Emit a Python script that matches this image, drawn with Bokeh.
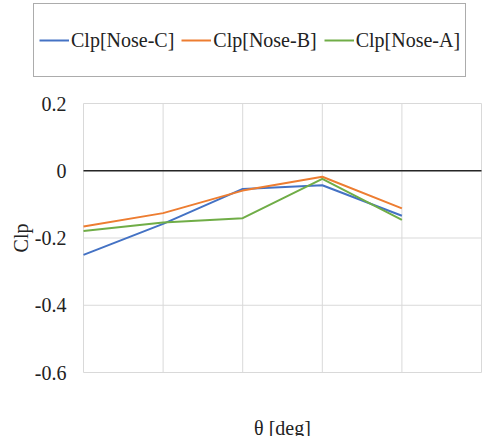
import math
from bokeh.plotting import figure
from bokeh.layouts import column
from bokeh.models import Legend, LegendItem
from bokeh.core.properties import value
from bokeh.embed import file_html
from bokeh.resources import INLINE

theta = [0, 5, 10, 15, 20]
clp_nose_c = [-0.250, -0.158, -0.054, -0.043, -0.134]
clp_nose_b = [-0.166, -0.126, -0.059, -0.018, -0.112]
clp_nose_a = [-0.179, -0.154, -0.141, -0.024, -0.146]
series_names = ["Clp[Nose-C]", "Clp[Nose-B]", "Clp[Nose-A]"]
series_colors = ["#4472C4", "#ED7D31", "#70AD47"]
x_ticks = [0, 5, 10, 15, 20, 25]
x_tick_labels = ["0", "5", "10", "15", "20", "25"]
y_ticks = [-0.6, -0.4, -0.2, 0, 0.2]
y_tick_labels = ["-0.6", "-0.4", "-0.2", "0", "0.2"]
x_title = "θ [deg]"
y_title = "Clp"
zero_level = 0

FONT = "Liberation Serif"
GRID = "#d9d9d9"
TXT = "#222222"

# ---- layout in pixels (main figure) ----
W, H = 494, 348
FRAME_L, FRAME_R = 83, 481      # x pixels of first / last x tick
FRAME_T, FRAME_B = 15, 284      # y pixels of last / first y tick
xs = (FRAME_R - FRAME_L) / (x_ticks[-1] - x_ticks[0])
ys = (FRAME_B - FRAME_T) / (y_ticks[-1] - y_ticks[0])
x_start = x_ticks[0] - FRAME_L / xs
x_end = x_ticks[-1] + (W - FRAME_R) / xs
y_end = y_ticks[-1] + FRAME_T / ys
y_start = y_ticks[0] - (H - FRAME_B) / ys


def px_x(px):
    return x_start + px / xs


def px_y(py):
    return y_end - py / ys


p = figure(width=W, height=H, output_backend="svg", toolbar_location=None,
           x_range=(x_start, x_end), y_range=(y_start, y_end),
           x_axis_type=None, y_axis_type=None,
           min_border_left=0, min_border_right=0, min_border_top=0, min_border_bottom=0)
p.outline_line_color = None
p.grid.visible = False

# grid (including the frame edges)
n, m = len(x_ticks), len(y_ticks)
p.segment(x0=x_ticks, y0=[y_ticks[0]] * n, x1=x_ticks, y1=[y_ticks[-1]] * n,
          line_color=GRID, line_width=1)
p.segment(x0=[x_ticks[0]] * m, y0=y_ticks, x1=[x_ticks[-1]] * m, y1=y_ticks,
          line_color=GRID, line_width=1)
# horizontal axis line at zero
p.segment(x0=[x_ticks[0]], y0=[zero_level], x1=[x_ticks[-1]], y1=[zero_level],
          line_color="#262626", line_width=1.5)

for yv, col in zip([clp_nose_c, clp_nose_b, clp_nose_a], series_colors):
    p.line(theta, yv, line_color=col, line_width=2)

# tick labels
p.text(x=x_ticks, y=[px_y(403)] * n, text=x_tick_labels, text_align="center",
       text_baseline="alphabetic", text_font=value(FONT), text_font_size="20px",
       text_color=TXT)
p.text(x=[px_x(66)] * m, y=y_ticks, text=y_tick_labels, text_align="right",
       text_baseline="middle", text_font=value(FONT), text_font_size="20px",
       text_color=TXT)
# axis titles
p.text(x=[(x_ticks[0] + x_ticks[-1]) / 2], y=[px_y(339)], text=[x_title],
       text_align="center", text_baseline="alphabetic", text_font=value(FONT),
       text_font_size="20px", text_color=TXT)
p.text(x=[px_x(20)], y=[(y_ticks[0] + y_ticks[-1]) / 2], text=[y_title], angle=math.pi / 2,
       text_align="center", text_baseline="middle", text_font=value(FONT),
       text_font_size="20px", text_color=TXT)

# ---- legend strip ----
lg = figure(width=494, height=88, output_backend="svg", toolbar_location=None,
            x_range=(0, 1), y_range=(0, 1), x_axis_location=None, y_axis_location=None,
            min_border_left=0, min_border_right=0, min_border_top=0, min_border_bottom=0)
if "frame_align" in lg.properties():
    lg.frame_align = False
    p.frame_align = False
lg.outline_line_color = None
lg.xgrid.visible = False
lg.ygrid.visible = False
items = []
for name, yv, col in zip(series_names, [clp_nose_c, clp_nose_b, clp_nose_a], series_colors):
    r = lg.line(theta, yv, line_color=col, line_width=2)
    items.append(LegendItem(label=name, renderers=[r]))

legend = Legend(items=items, orientation="horizontal", location=(33, 11),
                glyph_width=30, glyph_height=62, label_height=62, label_standoff=2,
                spacing=7, padding=5, margin=0,
                label_text_font=FONT, label_text_font_size="20px", label_text_color=TXT,
                border_line_color="#595959", border_line_width=1.2,
                background_fill_alpha=1.0)
lg.add_layout(legend, "center")

layout = column(lg, p, spacing=0)
open("out.html", "w").write(file_html(layout, INLINE))
